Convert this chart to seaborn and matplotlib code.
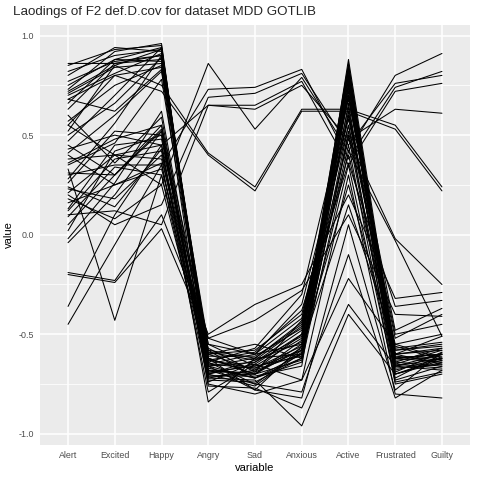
import pandas as pd
import seaborn as sns
import matplotlib.pyplot as plt

variables = ['Alert', 'Excited', 'Happy', 'Angry', 'Sad', 'Anxious', 'Active', 'Frustrated', 'Guilty']

# one list per variable, one entry per loading line
alert = [0.86, 0.85, 0.80, 0.77, 0.73, 0.71, 0.63, 0.55, 0.52, 0.41, 0.38, 0.35, 0.31, 0.26, 0.21,
         0.13, 0.05, -0.04, -0.19, -0.20, -0.36, -0.45, 0.75, 0.68, 0.60, 0.45, 0.33, 0.28, 0.23, 0.16,
         0.09, 0.50, 0.70, 0.40, 0.57, 0.18, 0.02, 0.82, 0.36, 0.12, 0.24, 0.47, 0.66, -0.02,
         0.55, 0.30, 0.20, 0.43, 0.10, 0.72, 0.68]
excited = [0.86, 0.93, 0.94, 0.87, 0.92, 0.84, 0.86, 0.80, 0.85, 0.60, 0.40, 0.46, 0.30, 0.52, 0.40,
           0.45, 0.30, 0.20, -0.23, -0.24, 0.10, -0.05, 0.88, 0.62, 0.36, 0.30, -0.43, 0.56, 0.18, 0.25,
           0.34, 0.66, 0.81, 0.25, 0.75, 0.08, 0.42, 0.90, 0.48, 0.38, 0.14, 0.70, 0.88, 0.26,
           0.40, 0.35, 0.05, 0.50, 0.12, 0.85, 0.80]
happy = [0.88, 0.95, 0.92, 0.90, 0.96, 0.86, 0.90, 0.84, 0.93, 0.82, 0.45, 0.78, 0.52, 0.50, 0.38,
         0.48, 0.55, 0.52, 0.10, 0.03, 0.45, 0.35, 0.94, 0.83, 0.59, 0.53, 0.30, 0.90, 0.40, 0.33,
         0.30, 0.89, 0.91, 0.36, 0.85, 0.25, 0.50, 0.93, 0.55, 0.42, 0.43, 0.94, 0.87, 0.62,
         0.25, 0.35, 0.15, 0.45, 0.05, 0.75, 0.72]
angry = [-0.62, -0.70, -0.66, -0.58, -0.72, -0.64, -0.60, -0.55, -0.68, -0.74, -0.52, -0.62, -0.70, -0.66, -0.58,
         -0.64, -0.75, -0.60, -0.50, -0.52, -0.84, -0.68, -0.63, -0.61, -0.72, -0.76, -0.65, -0.69, -0.71, -0.57,
         -0.73, -0.66, -0.62, -0.79, -0.59, -0.67, -0.70, -0.65, -0.55, -0.71, -0.63, -0.69, -0.60, -0.66,
         0.86, 0.73, 0.69, 0.65, 0.65, 0.41, 0.40]
sad = [-0.70, -0.65, -0.72, -0.62, -0.68, -0.75, -0.58, -0.66, -0.70, -0.64, -0.60, -0.78, -0.63, -0.62, -0.72,
       -0.57, -0.80, -0.68, -0.35, -0.43, -0.62, -0.75, -0.67, -0.61, -0.73, -0.77, -0.60, -0.66, -0.70, -0.69,
       -0.74, -0.64, -0.70, -0.65, -0.63, -0.72, -0.76, -0.67, -0.60, -0.71, -0.59, -0.69, -0.55, -0.78,
       0.53, 0.74, 0.71, 0.65, 0.63, 0.24, 0.22]
anxious = [-0.55, -0.50, -0.62, -0.45, -0.60, -0.58, -0.40, -0.52, -0.63, -0.48, -0.35, -0.56, -0.54, -0.44, -0.60,
           -0.30, -0.73, -0.50, -0.25, -0.28, -0.60, -0.79, -0.58, -0.47, -0.96, -0.87, -0.55, -0.61, -0.57, -0.43,
           -0.62, -0.51, -0.53, -0.73, -0.46, -0.64, -0.59, -0.56, -0.42, -0.66, -0.38, -0.58, -0.62, -0.82,
           0.79, 0.83, 0.81, 0.77, 0.75, 0.63, 0.62]
active = [0.80, 0.85, 0.75, 0.70, 0.88, 0.62, 0.55, 0.78, 0.66, 0.72, 0.58, 0.45, 0.82, 0.40, 0.50,
          0.68, 0.30, 0.60, 0.20, 0.10, 0.35, -0.10, 0.76, 0.70, -0.40, -0.35, 0.25, 0.84, 0.15, 0.64,
          0.52, 0.80, 0.86, -0.22, 0.48, 0.42, 0.55, 0.83, 0.60, 0.74, 0.36, 0.70, 0.78, 0.05,
          0.42, 0.38, 0.45, 0.35, 0.48, 0.63, 0.62]
frustrated = [-0.62, -0.65, -0.70, -0.58, -0.60, -0.66, -0.55, -0.68, -0.72, -0.64, -0.52, -0.75, -0.62, -0.58, -0.70,
              -0.48, -0.80, -0.60, -0.32, -0.40, -0.73, -0.82, -0.63, -0.57, -0.70, -0.66, -0.60, -0.62, -0.56, -0.69,
              -0.65, -0.61, -0.64, -0.55, -0.02, -0.03, -0.74, -0.66, -0.50, -0.67, -0.36, -0.62, -0.60, -0.78,
              0.80, 0.74, 0.76, 0.72, 0.63, 0.55, 0.53]
guilty = [-0.60, -0.58, -0.63, -0.55, -0.65, -0.68, -0.50, -0.62, -0.60, -0.66, -0.40, -0.70, -0.64, -0.56, -0.62,
          -0.37, -0.82, -0.58, -0.29, -0.41, -0.66, -0.68, -0.61, -0.54, -0.64, -0.60, -0.51, -0.60, -0.63, -0.59,
          -0.67, -0.63, -0.57, -0.62, -0.25, -0.51, -0.69, -0.62, -0.45, -0.65, -0.33, -0.60, -0.57, -0.59,
          0.91, 0.82, 0.80, 0.76, 0.61, 0.24, 0.22]

y_ticks = [-1.0, -0.5, 0.0, 0.5, 1.0]
y_minor = [-0.75, -0.25, 0.25, 0.75]

wide = pd.DataFrame(dict(zip(variables, [alert, excited, happy, angry, sad, anxious, active, frustrated, guilty])))
wide['line'] = range(len(wide))
df = wide.melt(id_vars='line', var_name='variable', value_name='value')
df['variable'] = pd.Categorical(df['variable'], categories=variables, ordered=True)
df['x'] = df['variable'].cat.codes

sns.set_style('darkgrid')
plt.rcParams['font.family'] = ['Liberation Sans', 'DejaVu Sans']

fig, ax = plt.subplots(figsize=(4.8, 4.8), dpi=100)
fig.subplots_adjust(left=40/480, right=470/480, top=1-25/480, bottom=1-445/480)

sns.lineplot(data=df, x='x', y='value', units='line', estimator=None,
             color='black', lw=0.75, ax=ax, legend=False)

ax.set_facecolor('#EBEBEB')
ax.set_xlim(-0.6, 8.6)
ax.set_ylim(-1.056, 1.053)
ax.set_xticks(range(len(variables)))
ax.set_xticklabels(variables)
ax.set_yticks(y_ticks)
ax.set_yticklabels([f'{t:.1f}' for t in y_ticks])
ax.set_yticks(y_minor, minor=True)
ax.grid(which='major', color='white', lw=1.1)
ax.grid(which='minor', axis='y', color='white', lw=0.55)
ax.set_axisbelow(True)
for s in ax.spines.values():
    s.set_visible(False)
ax.tick_params(axis='both', which='major', length=2.5, width=0.8, color='#333333',
               labelsize=6.4, labelcolor='#4D4D4D', pad=2)
ax.tick_params(axis='both', which='minor', length=0)

ax.set_xlabel('variable', fontsize=8, color='black', labelpad=2)
ax.set_ylabel('value', fontsize=8, color='black', labelpad=3)
fig.text(13/480, 1-12/480, 'Laodings of F2 def.D.cov for dataset MDD GOTLIB',
         fontsize=9.6, ha='left', va='center')

fig.savefig('out.png', dpi=100)
